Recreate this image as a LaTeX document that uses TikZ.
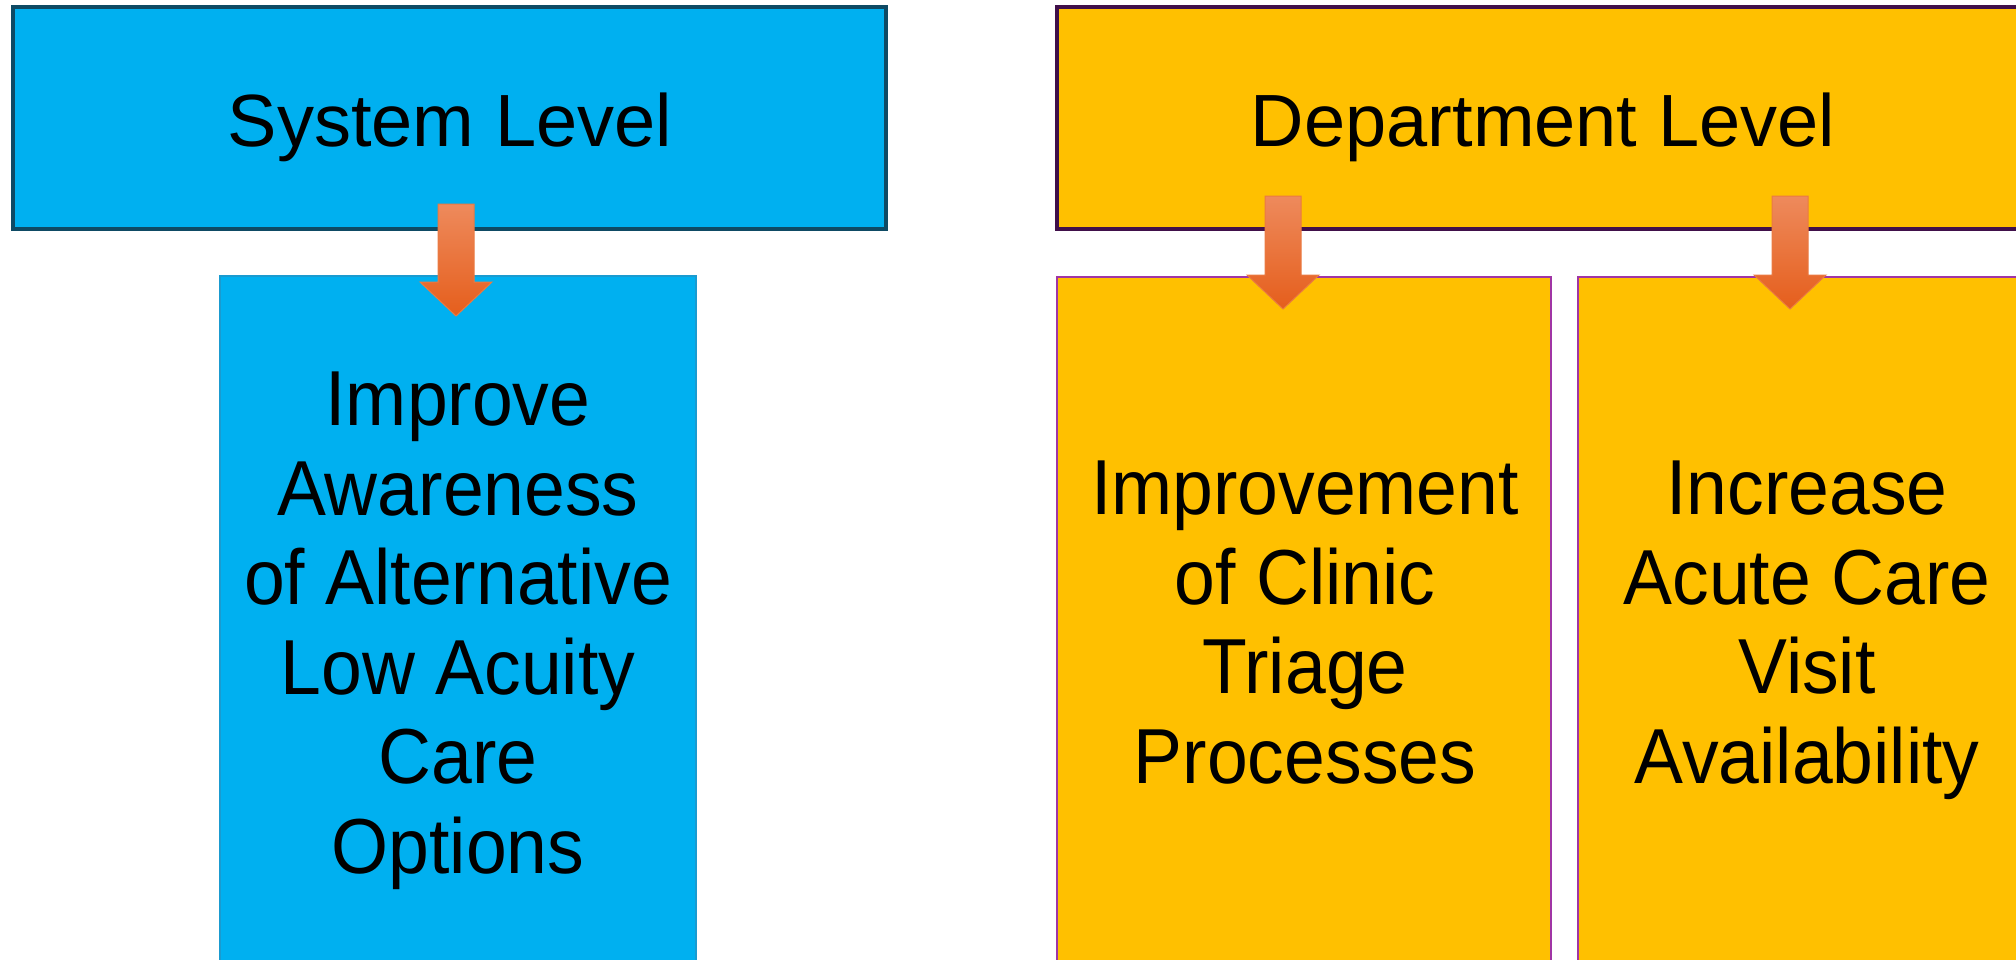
\documentclass[tikz,border=0pt]{standalone}
\usepackage{fontspec}
\setmainfont{Liberation Sans}
\newfontfamily\taskfont[FakeStretch=0.94]{Liberation Sans}
\definecolor{sysfill}{HTML}{00B0F0}
\definecolor{sysedge}{HTML}{0E4A64}
\definecolor{subedge}{HTML}{1A9BD0}
\definecolor{depfill}{HTML}{FFC000}
\definecolor{depedge}{HTML}{40104A}
\definecolor{taskedge}{HTML}{A035A5}
\definecolor{arrowtop}{HTML}{EE8A5C}
\definecolor{arrowbot}{HTML}{E55E1C}
\definecolor{arrowedge}{HTML}{EA7A42}
\tikzset{
  headbox/.style={line width=3.5pt},
  taskbox/.style={line width=2.2pt},
  headtext/.style={font=\fontsize{74}{89}\selectfont, anchor=base, inner sep=0pt},
  % a multi-line node's base is the baseline of its last line
  tasktext/.style={font=\taskfont\fontsize{78}{89.5}\selectfont, align=center, anchor=base, inner sep=0pt},
  blockarrow/.style={top color=arrowtop, bottom color=arrowbot, draw=arrowedge, line width=1pt, line join=miter}
}
% downward block arrow: #1 = tip coordinate, #2 = y of the shaft top
\newcommand{\downblock}[2]{%
  \path[blockarrow]
    ([xshift=-18pt]#1 |- 0,#2) -- ([xshift=18pt]#1 |- 0,#2)
    -- ([xshift=18pt,yshift=34pt]#1) -- ([xshift=36pt,yshift=34pt]#1)
    -- (#1) -- ([xshift=-36pt,yshift=34pt]#1) -- ([xshift=-18pt,yshift=34pt]#1) -- cycle;
}
\begin{document}
\begin{tikzpicture}[x=1pt,y=-1pt]
\useasboundingbox (0,0) rectangle (2016,959);
\clip (0,0) rectangle (2016,959);

% system level column
\draw[headbox, fill=sysfill, draw=sysedge] (13,7) rectangle (886,229);
\node[headtext] (sys) at (450,146) {System Level};
\draw[taskbox, fill=sysfill, draw=subedge, line width=1.5pt] (220,276) rectangle (696,1010);
\node[tasktext] (aware) at (458,873) {Improve\\Awareness\\of Alternative\\Low Acuity\\Care\\Options};

% department level column
\draw[headbox, fill=depfill, draw=depedge] (1057,7) rectangle (2031,229);
\node[headtext] (dep) at (1543,146) {Department Level};
\draw[taskbox, fill=depfill, draw=taskedge] (1057,277) rectangle (1551,1010);
\node[tasktext] (triage) at (1305,783) {Improvement\\of Clinic\\Triage\\Processes};
\draw[taskbox, fill=depfill, draw=taskedge] (1578,277) rectangle (2030,1010);
\node[tasktext] (acute) at (1807,783) {Increase\\Acute Care\\Visit\\Availability};

% arrows from level headers down into their tasks
\coordinate (t1) at (456,316);
\coordinate (t2) at (1283,309);
\coordinate (t3) at (1790,309);
\downblock{t1}{204}
\downblock{t2}{196}
\downblock{t3}{196}
\end{tikzpicture}
\end{document}
